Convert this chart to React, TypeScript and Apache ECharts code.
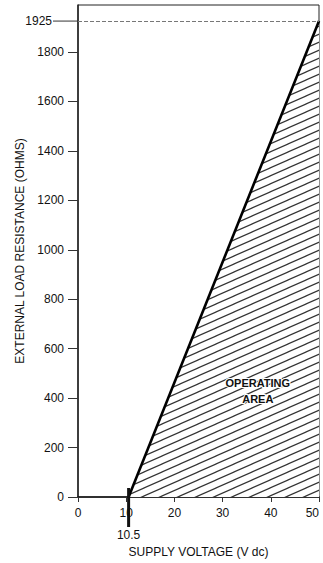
import React, { useEffect, useRef } from "react";
import * as echarts from "echarts";

const FONT = "'Liberation Sans', Arial, sans-serif";

// Data
const xTickValues = [0, 10, 20, 30, 40, 50];
const yTickValues = [0, 200, 400, 600, 800, 1000, 1200, 1400, 1600, 1800];
const loadLineX = [10.5, 50];
const loadLineY = [0, 1925];
const minVoltage = [10.5];
const maxResistance = [1925];
const areaLabelAt = [37.3, 430];
const areaLabelText = "OPERATING\nAREA";
const xTitle = "SUPPLY VOLTAGE (V dc)";
const yTitle = "EXTERNAL LOAD RESISTANCE (OHMS)";

function makeHatch() {
  const W = 18;
  const H = 8;
  const c = document.createElement("canvas");
  c.width = W;
  c.height = H;
  const ctx = c.getContext("2d")!;
  ctx.fillStyle = "#ffffff";
  ctx.fillRect(0, 0, W, H);
  ctx.strokeStyle = "#333333";
  ctx.lineWidth = 1.2;
  ctx.beginPath();
  ctx.moveTo(-W, 2 * H);
  ctx.lineTo(2 * W, -H);
  ctx.moveTo(-W, H);
  ctx.lineTo(W, -H);
  ctx.moveTo(0, 2 * H);
  ctx.lineTo(2 * W, 0);
  ctx.stroke();
  return c;
}

export default function App() {
  const ref = useRef<HTMLDivElement>(null);
  useEffect(() => {
    document.body.style.margin = "0";
    const chart = echarts.init(ref.current!, null, { renderer: "svg" });
    const hatch = makeHatch();
    const option: any = {
      animation: false,
      backgroundColor: "#ffffff",
      grid: {
        left: 78,
        right: 4,
        top: 5,
        bottom: 66,
        containLabel: false,
        outerBoundsMode: "none",
        show: true,
        borderColor: "#222",
        borderWidth: 1,
      },
      xAxis: {
        type: "value",
        min: 0,
        max: 50,
        interval: 10,
        name: xTitle,
        nameLocation: "middle",
        nameGap: 49,
        nameTextStyle: { fontFamily: FONT, fontSize: 12, color: "#111" },
        axisLine: { show: true, lineStyle: { color: "#111", width: 1.6 } },
        axisTick: { show: true, inside: false, length: 5, lineStyle: { color: "#333" } },
        axisLabel: {
          fontFamily: FONT,
          fontSize: 12,
          color: "#111",
          margin: 10,
          alignMaxLabel: "right",
          formatter: (v: number) => String(v),
        },
        splitLine: { show: false },
      },
      yAxis: {
        type: "value",
        min: 0,
        max: 1990,
        name: yTitle,
        nameLocation: "middle",
        nameGap: 52,
        nameTextStyle: { fontFamily: FONT, fontSize: 12, color: "#111" },
        axisLine: { show: true, lineStyle: { color: "#222", width: 1.5 } },
        axisTick: {
          show: true,
          length: 10,
          customValues: yTickValues,
          lineStyle: { color: "#333" },
        },
        axisLabel: {
          fontFamily: FONT,
          fontSize: 12,
          color: "#111",
          margin: 14,
          customValues: yTickValues,
          formatter: (v: number) => String(v),
        },
        splitLine: { show: false },
      },
      series: [
        {
          type: "line",
          data: loadLineX.map((x, i) => [x, loadLineY[i]]),
          symbol: "none",
          lineStyle: { color: "#000", width: 2.6 },
          areaStyle: {
            color: { image: hatch, repeat: "repeat", imageWidth: 18, imageHeight: 8 },
            opacity: 1,
          },
          z: 3,
          markLine: {
            silent: true,
            symbol: ["none", "none"],
            label: { show: false },
            lineStyle: { type: "dashed", color: "#777", width: 1 },
            data: maxResistance.map((v) => ({ yAxis: v })),
          },
          markPoint: {
            symbol: "circle",
            symbolSize: 1,
            itemStyle: { color: "rgba(0,0,0,0)" },
            label: {
              show: true,
              position: "inside",
              formatter: areaLabelText,
              fontFamily: FONT,
              fontSize: 11,
              fontWeight: "bold",
              color: "#111",
              lineHeight: 16,
              textBorderColor: "#fff",
              textBorderWidth: 2,
            },
            data: [{ coord: areaLabelAt }],
          },
        },
        {
          type: "custom",
          clip: false,
          z: 5,
          data: minVoltage.map((v) => [v, 0]),
          renderItem: (params: any, api: any) => {
            const p = api.coord([api.value(0), api.value(1)]);
            return {
              type: "group",
              children: [
                {
                  type: "line",
                  shape: { x1: p[0], y1: p[1] - 9, x2: p[0], y2: p[1] + 30 },
                  style: { stroke: "#111", lineWidth: 3 },
                },
                {
                  type: "text",
                  style: {
                    text: String(api.value(0)),
                    x: p[0],
                    y: p[1] + 32,
                    align: "center",
                    verticalAlign: "top",
                    font: `12px ${FONT}`,
                    fill: "#111",
                  },
                },
              ],
            };
          },
        },
        {
          type: "custom",
          clip: false,
          z: 5,
          data: maxResistance.map((v) => [0, v]),
          renderItem: (params: any, api: any) => {
            const p = api.coord([api.value(0), api.value(1)]);
            return {
              type: "group",
              children: [
                {
                  type: "line",
                  shape: { x1: p[0] - 25, y1: p[1], x2: p[0], y2: p[1] },
                  style: { stroke: "#333", lineWidth: 1 },
                },
                {
                  type: "text",
                  style: {
                    text: String(api.value(1)),
                    x: p[0] - 26,
                    y: p[1],
                    align: "right",
                    verticalAlign: "middle",
                    font: `12px ${FONT}`,
                    fill: "#111",
                  },
                },
              ],
            };
          },
        },
      ],
    };
    chart.setOption(option);
    return () => chart.dispose();
  }, []);
  return (
    <div
      ref={ref}
      style={{ width: 323, height: 563, position: "absolute", left: 0, top: 0 }}
    />
  );
}
